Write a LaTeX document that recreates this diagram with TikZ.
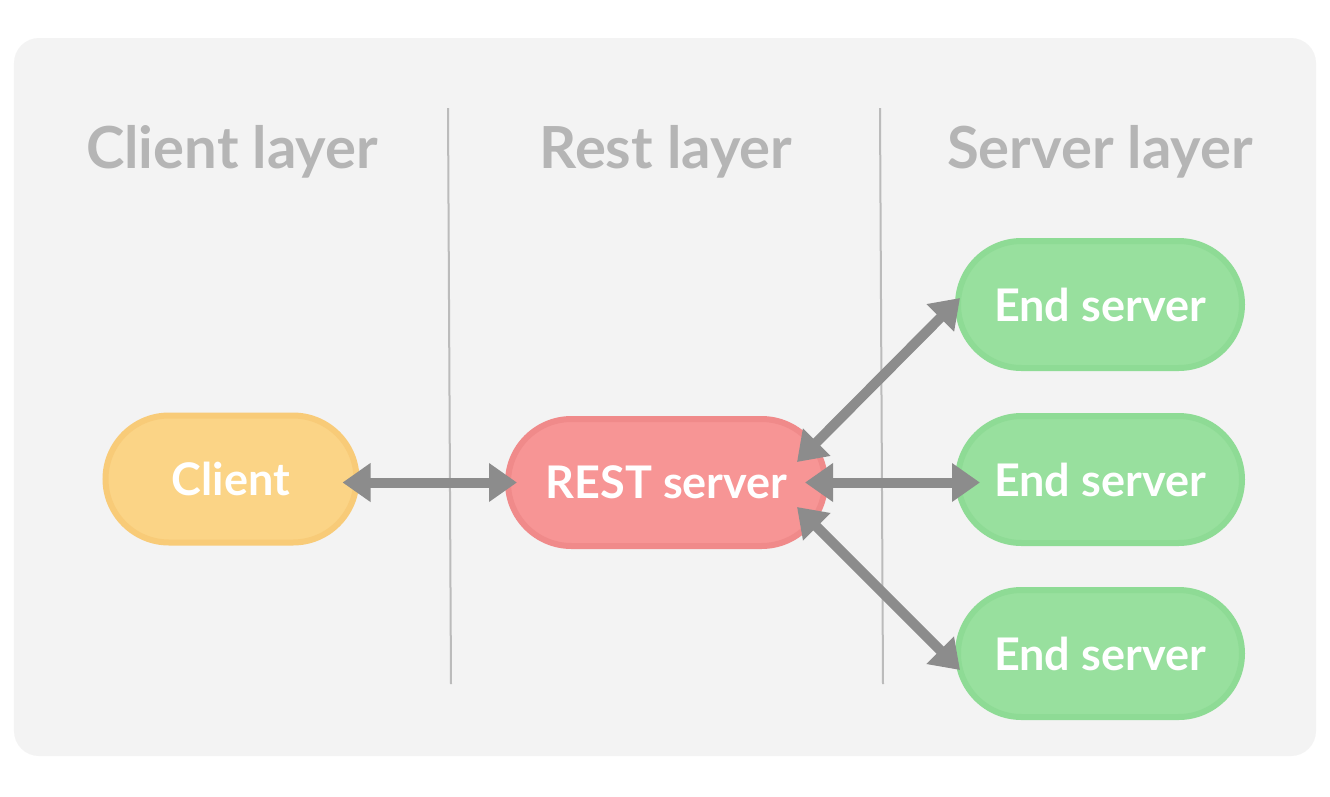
\documentclass[tikz,border=0pt]{standalone}
\usepackage{fontspec}
\setmainfont{Lato}
\usetikzlibrary{arrows.meta,calc,shapes.misc}
\tikzset{>={Triangle[length=0.28cm,width=0.37cm]}}
\definecolor{panel}{HTML}{F3F3F3}
\definecolor{divider}{HTML}{BBBBBB}
\definecolor{title}{HTML}{B5B5B5}
\definecolor{link}{HTML}{8C8C8C}
\definecolor{clientfill}{HTML}{FBD486}
\definecolor{clientline}{HTML}{F8CB78}
\definecolor{restfill}{HTML}{F79595}
\definecolor{restline}{HTML}{F08A8A}
\definecolor{endfill}{HTML}{98E09E}
\definecolor{endline}{HTML}{8EDB95}
\tikzset{
  pill/.style={rounded rectangle, draw, line width=0.06cm, minimum height=1.27cm,
    inner sep=0pt, text=white, font=\fontsize{12.8}{15}\selectfont\bfseries},
  layertitle/.style={text=title, font=\fontsize{16.5}{20}\selectfont\bfseries},
  conn/.style={<->, draw=link, line width=0.1cm},
}

\begin{document}
\begin{tikzpicture}
      \def\wend{2.84}  % path width of an end server
      \useasboundingbox[fill=white] (0,0) rectangle (13.30,-7.96);
      \fill[panel, rounded corners=0.25cm] (0.14,-0.38) rectangle (13.16,-7.56);
      \draw[divider, line width=0.02cm] (4.48,-1.08) -- (4.51,-6.84);
      \draw[divider, line width=0.02cm] (8.80,-1.08) -- (8.83,-6.84);
      %
      \node[layertitle] (tclient) at (2.32,-1.52) {Client layer};
      \node[layertitle] (trest) at (6.66,-1.52) {Rest layer};
      \node[layertitle] (tserver) at (11.00,-1.52) {Server layer};
      %
      \node[pill, fill=clientfill, draw=clientline, minimum width=2.51cm] (client) at (2.31,-4.79) {Client};
      \node[pill, fill=restfill, draw=restline, minimum width=3.17cm] (rest) at (6.665,-4.825) {REST server};
      \foreach \i/\y in {1/-3.045,2/-4.795,3/-6.535} {%
        \node[pill, fill=endfill, draw=endline, minimum width=\wend cm] (end\i) at (11.00,\y) {End server};
      }
      %
      \draw[conn, shorten <=-0.17cm, shorten >=-0.12cm] (client.east |- rest.west) -- (rest.west);
      \draw[conn, shorten <=-0.23cm, shorten >=-0.25cm] (rest.east) -- (rest.east -| end2.west);
      \draw[conn] ($(rest.east)+(-0.31,0.205)$) -- ($(end1.west)+(0.05,0.065)$);
      \draw[conn] ($(rest.east)+(-0.31,-0.245)$) -- ($(end3.west)+(0.05,-0.165)$);
    \end{tikzpicture}
\end{document}
